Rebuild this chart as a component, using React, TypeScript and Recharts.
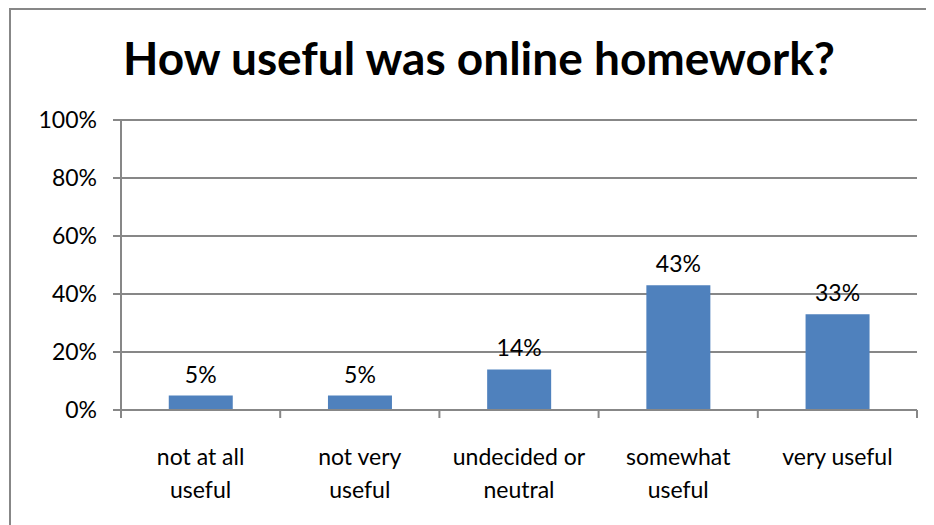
import { Bar, BarChart, CartesianGrid, LabelList, XAxis, YAxis } from "recharts";

// Survey answers, one bar per answer, values in percent.
const categories = ["not at all\nuseful", "not very\nuseful", "undecided or\nneutral", "somewhat\nuseful", "very useful"];
const shares = [5, 5, 14, 43, 33];
const yTicks = [0, 20, 40, 60, 80, 100];

const TITLE = "How useful was online homework?";
const FONT = "Lato, 'Open Sans', sans-serif";
const GRAY = "#878787";
const BLUE = "#4F81BD";
const TEXT_SIZE = 23;

const data = categories.map((name, i) => ({ name, value: shares[i] }));

// Category tick: a short mark at the left edge of each band (and the right
// edge of the last one), with the label centred under the band.
function CategoryTick(props: any) {
  const { x, y, payload, index, visibleTicksCount } = props;
  const half = payload?.offset ?? 79.6;
  const lines = String(payload.value).split("\n");
  const isLast = index === (visibleTicksCount ?? categories.length) - 1;
  return (
    <g>
      <line x1={x - half} x2={x - half} y1={y} y2={y + 8} stroke={GRAY} strokeWidth={2} />
      {isLast && <line x1={x + half} x2={x + half} y1={y} y2={y + 8} stroke={GRAY} strokeWidth={2} />}
      <text x={x} y={y} textAnchor="middle" fill="#000" fontSize={TEXT_SIZE} fontFamily={FONT}>
        {lines.map((l, i) => (
          <tspan key={i} x={x} dy={i === 0 ? 55 : 33}>
            {l}
          </tspan>
        ))}
      </text>
    </g>
  );
}

export default function App() {
  return (
    <div style={{ position: "relative", width: 926, height: 517, overflow: "hidden", background: "#fff" }}>
      {/* chart frame; its right and bottom edges fall outside the picture */}
      <div
        style={{
          position: "absolute",
          left: 1,
          top: 0,
          width: 960,
          height: 560,
          border: `2px solid ${GRAY}`,
          boxSizing: "border-box",
        }}
      />
      <svg width={926} height={100} style={{ position: "absolute", left: 0, top: 0 }}>
        <text x={471} y={67} textAnchor="middle" fontFamily={FONT} fontWeight={700} fontSize={46} fill="#000">
          {TITLE}
        </text>
      </svg>
      <div style={{ position: "absolute", left: 0, top: 0 }}>
        <BarChart
          width={926}
          height={517}
          data={data}
          margin={{ top: 112, right: 17, bottom: 15, left: 13 }}
          barCategoryGap="30%"
        >
          <CartesianGrid vertical={false} stroke={GRAY} strokeWidth={2} />
          <XAxis
            dataKey="name"
            interval={0}
            height={100}
            tickSize={0}
            tickMargin={0}
            axisLine={{ stroke: GRAY, strokeWidth: 2 }}
            tickLine={false}
            tick={<CategoryTick />}
          />
          <YAxis
            width={100}
            domain={[0, 100]}
            ticks={yTicks}
            interval={0}
            tickSize={8}
            tickMargin={16}
            tickFormatter={(v) => `${v}%`}
            axisLine={{ stroke: GRAY, strokeWidth: 2 }}
            tickLine={{ stroke: GRAY, strokeWidth: 2 }}
            tick={{ fill: "#000", fontSize: TEXT_SIZE, fontFamily: FONT }}
          />
          <Bar dataKey="value" fill={BLUE} isAnimationActive={false}>
            <LabelList
              dataKey="value"
              position="top"
              offset={13}
              formatter={(v: any) => `${v}%`}
              fill="#000"
              fontSize={TEXT_SIZE}
              fontFamily={FONT}
            />
          </Bar>
        </BarChart>
      </div>
    </div>
  );
}
